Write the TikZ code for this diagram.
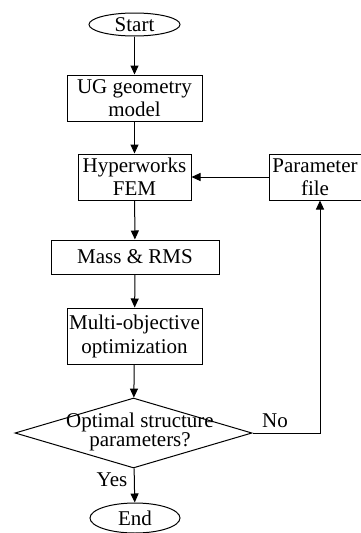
\documentclass[tikz,border=0pt]{standalone}
\usepackage{fontspec}
\setmainfont{Liberation Serif}
\usetikzlibrary{shapes.geometric,arrows.meta}
\begin{document}
\begin{tikzpicture}[x=1pt,y=1pt,
  every node/.style={font=\fontsize{21}{23}\selectfont, inner sep=0pt},
  box/.style={draw, line width=1pt, rectangle, align=center},
  term/.style={draw, line width=1pt, ellipse},
  conn/.style={line width=1pt, -{Triangle[length=9pt,width=8pt]}}]
\useasboundingbox (0,0) rectangle (361,-533);
\node[term, minimum width=91, minimum height=23] (start) at (134.5,-24.5) {Start};
\node[box, minimum width=135, minimum height=46] (ug) at (134.5,-98) {UG geometry\\model};
\node[box, minimum width=113, minimum height=46] (hyp) at (134.5,-177) {Hyperworks\\FEM};
\node[box, minimum width=92, minimum height=46] (param) at (315,-177) {Parameter\\file};
\node[box, minimum width=168, minimum height=34] (mass) at (135,-257) {Mass \& RMS};
\node[box, minimum width=135, minimum height=56, font=\fontsize{21}{24}\selectfont] (multi) at (134.5,-336) {Multi-objective\\optimization};
\node[draw, line width=1pt, diamond, minimum width=237, minimum height=70] (dia) at (133.5,-433) {};
\node[align=center, font=\fontsize{21}{15}\selectfont] (diatext) at (140,-432) {Optimal structure\\parameters?};
\node[term, minimum width=90, minimum height=30] (end) at (135,-518) {End};
\node (no) at (275,-421) {No};
\node (yes) at (112,-480) {Yes};
\coordinate (corner) at (320,-433);
\draw[conn] (start) -- (ug);
\draw[conn] (ug) -- (hyp);
\draw[conn] (param) -- (hyp);
\draw[conn] (hyp) -- (mass);
\draw[conn] (mass) -- (multi);
\draw[conn] (multi) -- (dia);
\draw[conn] (dia) -- (end);
\draw[conn] (dia.east) -- (corner) -- (corner |- param.south);
\end{tikzpicture}
\end{document}
